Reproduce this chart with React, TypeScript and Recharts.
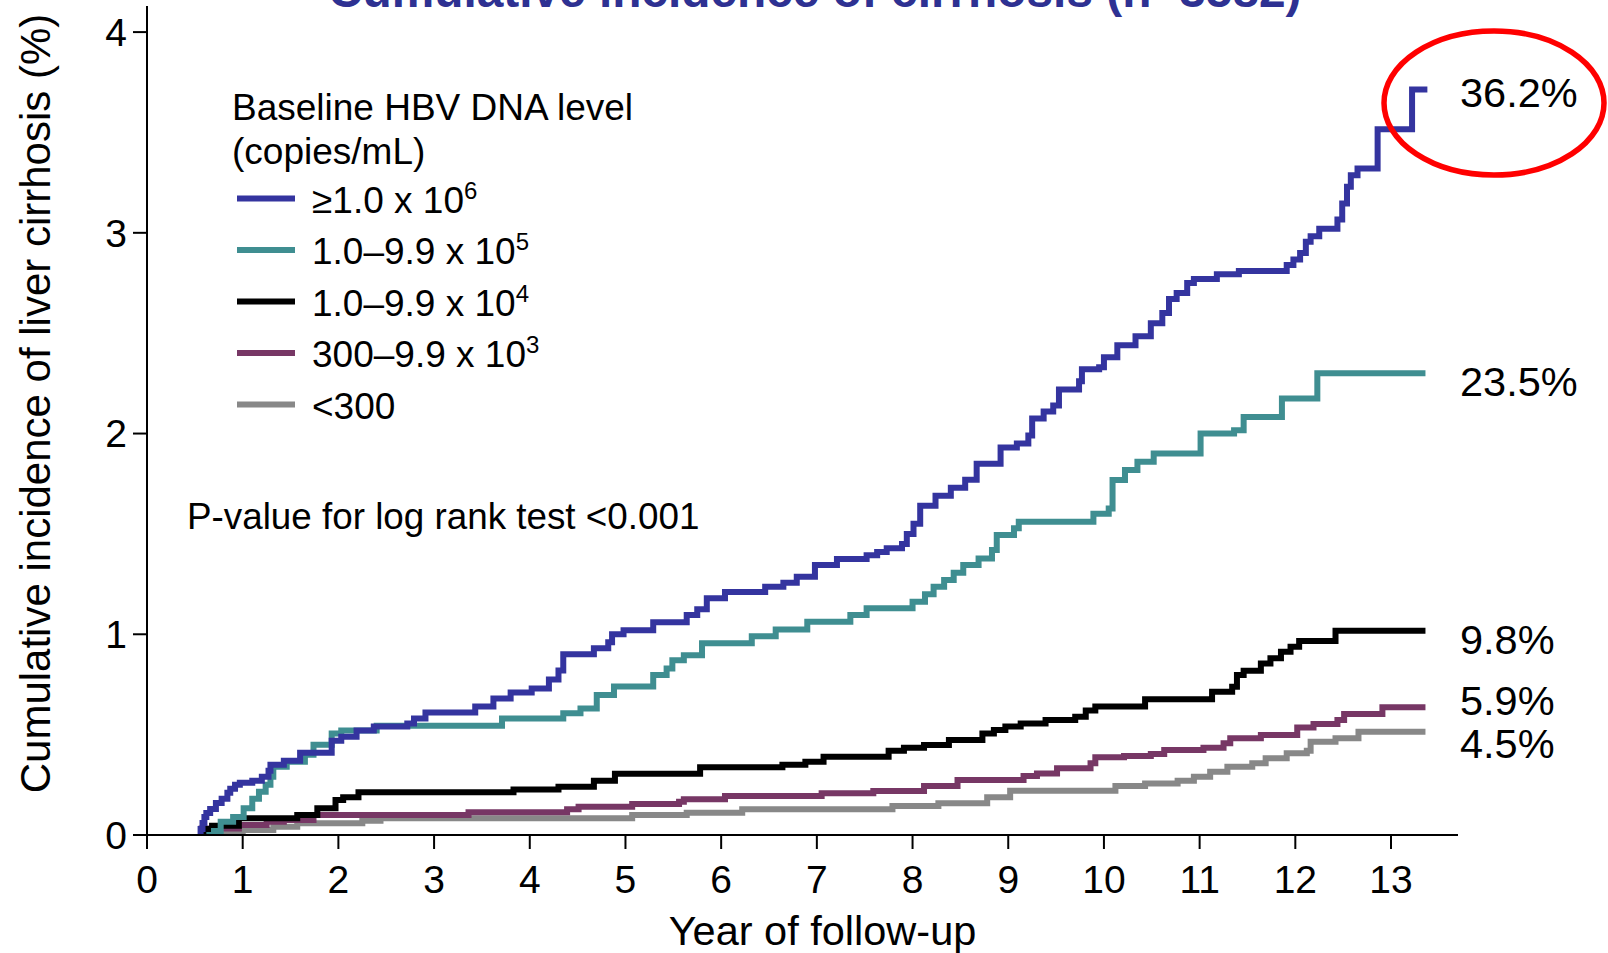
import React from "react"
import { LineChart, Line, XAxis, YAxis, Legend, ReferenceDot, Label } from "recharts"

const FONT = '"Liberation Sans", Arial, Helvetica, sans-serif'

// step points: [year, cumulative incidence %]
const blueSteps: [number, number][] = [
  [0.54, 0], [0.56, 0.03], [0.58, 0.06], [0.6, 0.09], [0.62, 0.11], [0.66, 0.13], [0.72, 0.16], [0.78, 0.18],
  [0.84, 0.21], [0.87, 0.23], [0.92, 0.25], [0.97, 0.26], [1.1, 0.27], [1.2, 0.29], [1.27, 0.32], [1.29, 0.35],
  [1.43, 0.37], [1.6, 0.41], [1.93, 0.47], [2.03, 0.49], [2.19, 0.52], [2.37, 0.54], [2.72, 0.556], [2.79, 0.58],
  [2.91, 0.61], [3.43, 0.64], [3.62, 0.68], [3.8, 0.71], [4.02, 0.73], [4.2, 0.775], [4.3, 0.82], [4.35, 0.9],
  [4.67, 0.93], [4.82, 0.96], [4.86, 1.0], [4.98, 1.02], [5.29, 1.06], [5.64, 1.096], [5.75, 1.125], [5.85, 1.18],
  [6.04, 1.21], [6.46, 1.237], [6.65, 1.257], [6.79, 1.286], [6.98, 1.345], [7.21, 1.375], [7.52, 1.394],
  [7.63, 1.41], [7.73, 1.428], [7.89, 1.45], [7.94, 1.5], [8.01, 1.55], [8.08, 1.64], [8.24, 1.69], [8.4, 1.73],
  [8.55, 1.77], [8.67, 1.85], [8.92, 1.93], [9.09, 1.95], [9.21, 1.99], [9.25, 2.075], [9.37, 2.11], [9.47, 2.14],
  [9.53, 2.22], [9.74, 2.26], [9.77, 2.32], [9.95, 2.33], [10.0, 2.38], [10.14, 2.44], [10.33, 2.485],
  [10.49, 2.55], [10.61, 2.6], [10.68, 2.67], [10.76, 2.7], [10.87, 2.75], [10.94, 2.77], [11.18, 2.794],
  [11.41, 2.81], [11.91, 2.84], [11.98, 2.867], [12.05, 2.9], [12.11, 2.955], [12.16, 2.983], [12.25, 3.02],
  [12.44, 3.066], [12.49, 3.146], [12.54, 3.23], [12.58, 3.287], [12.65, 3.32], [12.86, 3.516], [13.22, 3.714],
  [13.38, 3.714],
]

const tealSteps: [number, number][] = [
  [0.62, 0], [0.7, 0.02], [0.77, 0.066], [0.9, 0.09], [1.01, 0.133], [1.1, 0.18], [1.17, 0.215], [1.24, 0.25],
  [1.29, 0.29], [1.32, 0.34], [1.46, 0.365], [1.65, 0.4], [1.74, 0.45], [1.93, 0.506], [2.03, 0.52], [2.4, 0.544],
  [3.71, 0.58], [4.35, 0.606], [4.53, 0.63], [4.7, 0.697], [4.88, 0.74], [5.29, 0.797], [5.43, 0.83], [5.49, 0.87],
  [5.61, 0.896], [5.8, 0.955], [6.32, 0.99], [6.57, 1.024], [6.9, 1.062], [7.35, 1.096], [7.52, 1.13], [8.0, 1.162],
  [8.13, 1.2], [8.22, 1.237], [8.33, 1.27], [8.43, 1.306], [8.53, 1.345], [8.69, 1.378], [8.83, 1.42],
  [8.88, 1.494], [9.06, 1.528], [9.11, 1.56], [9.89, 1.6], [10.05, 1.627], [10.09, 1.768], [10.22, 1.818],
  [10.35, 1.86], [10.52, 1.9], [11.01, 2.0], [11.36, 2.017], [11.46, 2.083], [11.86, 2.175], [12.23, 2.3],
  [13.36, 2.3],
]

const blackSteps: [number, number][] = [
  [0.58, 0], [0.62, 0.03], [0.68, 0.046], [0.96, 0.083], [1.57, 0.1], [1.78, 0.133], [1.97, 0.174], [2.05, 0.188],
  [2.21, 0.213], [3.83, 0.227], [4.3, 0.24], [4.67, 0.27], [4.89, 0.305], [5.78, 0.337], [6.64, 0.35],
  [6.88, 0.365], [7.07, 0.39], [7.75, 0.42], [7.91, 0.435], [8.12, 0.448], [8.38, 0.473], [8.73, 0.506],
  [8.85, 0.523], [8.97, 0.54], [9.13, 0.556], [9.39, 0.573], [9.7, 0.589], [9.81, 0.62], [9.91, 0.64],
  [10.43, 0.676], [11.13, 0.714], [11.34, 0.739], [11.39, 0.797], [11.46, 0.818], [11.64, 0.855], [11.74, 0.88],
  [11.85, 0.913], [11.95, 0.938], [12.04, 0.966], [12.42, 1.017], [13.36, 1.017],
]

const purpleSteps: [number, number][] = [
  [0.56, 0], [0.57, 0.033], [0.96, 0.05], [1.25, 0.066], [1.43, 0.075], [1.74, 0.1], [3.36, 0.113], [4.39, 0.128],
  [4.51, 0.141], [5.07, 0.154], [5.56, 0.166], [5.61, 0.178], [6.04, 0.194], [7.05, 0.208], [7.59, 0.219],
  [8.12, 0.244], [8.47, 0.274], [9.16, 0.294], [9.3, 0.307], [9.51, 0.332], [9.86, 0.357], [9.91, 0.387],
  [10.21, 0.393], [10.49, 0.403], [10.63, 0.423], [11.04, 0.435], [11.25, 0.457], [11.32, 0.482], [11.64, 0.498],
  [12.02, 0.536], [12.19, 0.553], [12.44, 0.573], [12.51, 0.603], [12.91, 0.636], [13.36, 0.636],
]

const graySteps: [number, number][] = [
  [0.56, 0.005], [0.87, 0.017], [1.0, 0.025], [1.32, 0.041], [1.57, 0.058], [2.25, 0.071], [2.44, 0.083],
  [5.07, 0.1], [5.64, 0.111], [6.22, 0.128], [7.79, 0.144], [8.27, 0.158], [8.78, 0.188], [9.02, 0.22],
  [10.12, 0.244], [10.43, 0.257], [10.77, 0.27], [10.94, 0.29], [11.11, 0.315], [11.29, 0.34], [11.55, 0.357],
  [11.69, 0.382], [11.91, 0.407], [12.12, 0.42], [12.16, 0.465], [12.42, 0.482], [12.66, 0.514], [13.36, 0.514],
]

const seriesNames = ["\u22651.0 x 10", "1.0\u20139.9 x 10", "1.0\u20139.9 x 10", "300\u20139.9 x 10", "<300"]
const seriesExp = ["6", "5", "4", "3", ""]
const seriesColors = ["#34349f", "#3f8e91", "#000000", "#773765", "#888888"]
const seriesSteps = [blueSteps, tealSteps, blackSteps, purpleSteps, graySteps]

const endLabels = ["36.2%", "23.5%", "9.8%", "5.9%", "4.5%"]
const endLabelPos = [3.70, 2.26, 0.975, 0.671, 0.457]

const xTicks = [0, 1, 2, 3, 4, 5, 6, 7, 8, 9, 10, 11, 12, 13]
const yTicks = [0, 1, 2, 3, 4]

const toPoints = (steps: [number, number][]) => steps.map(([t, v]) => ({ t, v }))

function LegendBox() {
  return (
    <svg width={700} height={440} style={{ display: "block" }}>
      <text x={232} y={120} fontSize={37} fontFamily={FONT} fill="#000">Baseline HBV DNA level</text>
      <text x={232} y={164} fontSize={37} fontFamily={FONT} fill="#000">(copies/mL)</text>
      {seriesNames.map((name, i) => {
        const ly = 198.5 + i * 51.5
        return (
          <g key={i}>
            <line x1={237} x2={295} y1={ly} y2={ly} stroke={seriesColors[i]} strokeWidth={6} />
            <text x={312} y={ly + 14} fontSize={37} fontFamily={FONT} fill="#000">
              {name}
              {seriesExp[i] && <tspan dy={-14} fontSize={24}>{seriesExp[i]}</tspan>}
            </text>
          </g>
        )
      })}
    </svg>
  )
}

export default function App() {
  const drawOrder = [4, 3, 2, 1, 0]
  return (
    <div style={{ position: "relative", width: 1608, height: 953, overflow: "hidden", background: "#fff" }}>
      <style>{"body{margin:0}"}</style>
      <LineChart width={1608} height={953} margin={{ top: 6, right: 150, bottom: 0, left: 0 }}>
        <XAxis
          type="number"
          dataKey="t"
          domain={[0, 13.7]}
          ticks={xTicks}
          interval={0}
          allowDataOverflow
          height={118}
          tickSize={14}
          tickMargin={16}
          axisLine={{ stroke: "#000", strokeWidth: 2 }}
          tickLine={{ stroke: "#000", strokeWidth: 2 }}
          tick={{ fontSize: 39, fill: "#000", fontFamily: FONT }}
        >
          <Label
            content={(p: any) => {
              const vb = p.viewBox
              return (
                <text x={vb.x + vb.width / 2 + 20} y={vb.y + 110} textAnchor="middle" fontSize={41.5} fontFamily={FONT} fill="#000">
                  Year of follow-up
                </text>
              )
            }}
          />
        </XAxis>
        <YAxis
          type="number"
          domain={[0, 4.13]}
          ticks={yTicks}
          interval={0}
          allowDataOverflow
          width={147}
          tickSize={14}
          tickMargin={6}
          axisLine={{ stroke: "#000", strokeWidth: 2 }}
          tickLine={{ stroke: "#000", strokeWidth: 2 }}
          tick={{ fontSize: 39, fill: "#000", fontFamily: FONT }}
        >
          <Label
            content={(p: any) => {
              const vb = p.viewBox
              const cy = vb.y + vb.height / 2 - 17
              return (
                <text transform={`translate(50, ${cy}) rotate(-90)`} textAnchor="middle" fontSize={42} fontFamily={FONT} fill="#000">
                  Cumulative incidence of liver cirrhosis (%)
                </text>
              )
            }}
          />
        </YAxis>
        {drawOrder.map((i) => (
          <Line
            key={i}
            data={toPoints(seriesSteps[i])}
            dataKey="v"
            name={seriesNames[i] + seriesExp[i]}
            type="stepAfter"
            stroke={seriesColors[i]}
            strokeWidth={6}
            dot={false}
            activeDot={false}
            isAnimationActive={false}
          />
        ))}
        {endLabels.map((lab, i) => (
          <ReferenceDot
            key={lab}
            x={13.7}
            y={endLabelPos[i]}
            r={0}
            fill="none"
            stroke="none"
            ifOverflow="visible"
            label={{ value: lab, position: "right", offset: 2, fontSize: 41.5, fill: "#000", fontFamily: FONT }}
          />
        ))}
        <Legend
          layout="horizontal"
          verticalAlign="middle"
          align="center"
          content={() => <LegendBox />}
          wrapperStyle={{ left: 0, top: 0, width: 700, height: 440 }}
        />
      </LineChart>
      <svg width={1608} height={953} style={{ position: "absolute", left: 0, top: 0, pointerEvents: "none" }}>
        <text x={328} y={7} fontSize={47.8} fontWeight="bold" fontFamily={FONT} fill="#2e3192">
          Cumulative incidence of cirrhosis (n=3582)
        </text>
        <text x={187} y={529} fontSize={36.8} fontFamily={FONT} fill="#000">P-value for log rank test &lt;0.001</text>
        <ellipse cx={1494} cy={103} rx={110} ry={72} fill="none" stroke="#ff0000" strokeWidth={5.5} />
      </svg>
    </div>
  )
}
